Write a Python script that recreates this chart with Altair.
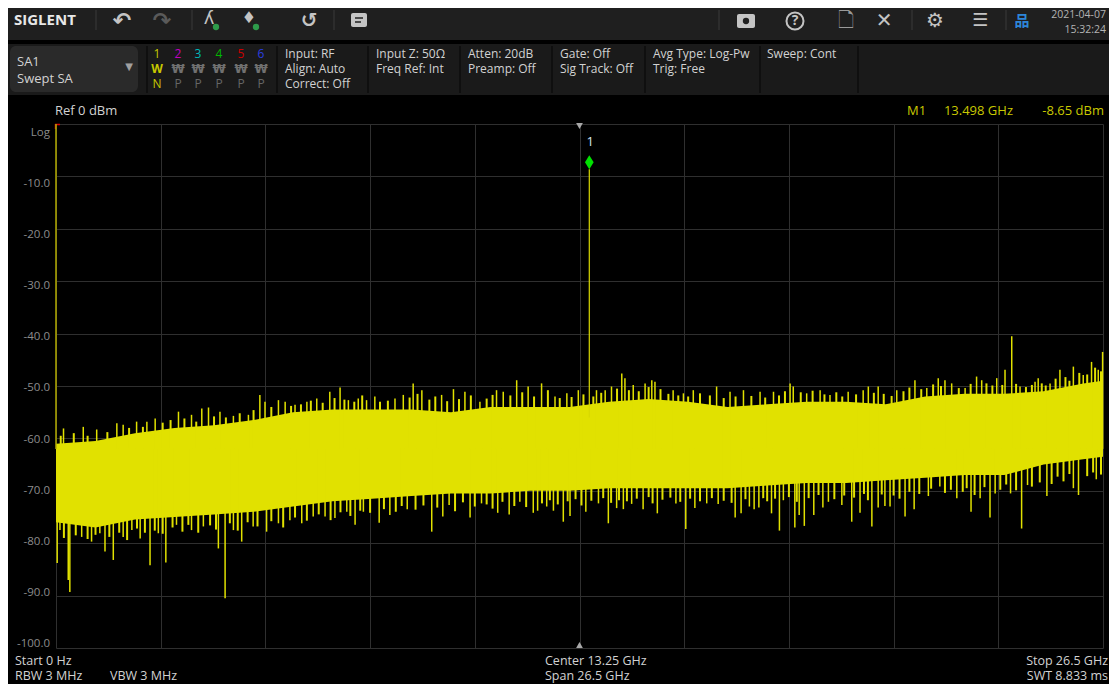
import pandas as pd
import altair as alt

# ---- trace values (GHz, dBm) ----
# dense part of the noise floor
env_f = [0, 1, 2, 3, 4, 5, 6, 7, 8, 9, 10, 11, 12, 13, 14, 15, 16, 17, 18, 19,
         20, 21, 22, 23, 24, 25, 26, 26.5]
env_top = [-61, -60.5, -59, -58, -57.5, -56.5, -55, -54.5, -54.5, -54.5, -55, -54,
           -54, -54, -53, -52.5, -53, -54, -53.5, -53, -53, -53.5, -52, -51.5,
           -51.5, -51, -49.5, -49]
env_bot = [-76, -77, -75.5, -75, -74.5, -74, -73, -72, -71.5, -71, -70.5, -70.5,
           -70, -70, -69.5, -69.5, -69.5, -69.5, -69, -68.5, -68.5, -68, -67.5, -67,
           -67, -65, -64, -63.5]

# tall peaks sticking out above the floor
up_f = [0.19, 0.69, 1.03, 1.54, 1.70, 2.04, 2.30, 2.51, 3.10, 3.43, 3.69, 3.86, 4.15,
        4.49, 4.87, 5.16, 5.29, 5.63, 5.80, 6.05, 6.35, 6.60, 6.93, 7.19, 7.40, 7.65,
        7.86, 8.07, 8.58, 8.79, 9.04, 9.26, 9.76, 10.06, 10.35, 10.73, 11.15, 11.32,
        11.66, 11.95, 12.29, 12.63, 12.93, 13.22, 13.68, 13.90, 14.06, 14.32, 14.40,
        14.61, 14.91, 15.08, 15.16, 15.62, 15.88, 16.13, 16.72, 17.06, 17.40, 17.82,
        18.16, 18.58, 18.66, 19.00, 19.34, 19.59, 20.05, 20.43, 20.56, 20.81, 21.28,
        21.74, 22.04, 22.33, 22.50, 22.67, 23.01, 23.30, 23.43, 23.81, 24.02, 24.19,
        24.40, 24.78, 24.86, 25.16, 25.41, 25.75, 26.00, 26.21, 26.38, 26.49]
up_db = [-58.1, -57.8, -58.3, -57.1, -57.4, -56.8, -56.8, -56.2, -54.9, -55.5, -54.3,
         -54.1, -54.9, -55.7, -55.5, -51.7, -53.0, -52.7, -53.0, -53.6, -53.0, -52.4,
         -51.1, -50.3, -52.7, -52.4, -52.7, -52.0, -52.4, -51.7, -49.5, -50.8, -51.7,
         -50.6, -51.1, -53.0, -50.8, -51.1, -48.9, -50.1, -49.5, -52.0, -51.4, -50.8,
         -50.8, -50.8, -50.1, -47.6, -48.5, -49.8, -49.5, -48.9, -49.2, -50.8, -51.4,
         -50.8, -50.1, -51.1, -50.8, -51.1, -51.1, -49.5, -50.1, -51.4, -50.8, -51.7,
         -51.1, -50.8, -50.1, -50.1, -50.8, -48.9, -50.4, -48.5, -48.9, -49.5, -50.4,
         -48.2, -48.9, -48.5, -46.9, -40.5, -50.1, -49.2, -48.5, -49.5, -46.9, -46.3,
         -47.9, -45.4, -46.9, -43.5]

# short fuzz along the top edge
up2_f = [0.12, 0.45, 0.8, 1.3, 1.85, 2.2, 2.7, 2.9, 3.25, 3.55, 4.0, 4.3, 4.65, 5.0,
         5.45, 5.95, 6.2, 6.45, 6.75, 7.05, 7.3, 7.55, 7.75, 8.2, 8.4, 8.95, 9.15, 9.45,
         9.6, 9.9, 10.2, 10.5, 10.9, 11.05, 11.5, 11.8, 12.1, 12.45, 12.75, 13.05,
         13.35, 13.6, 13.8, 14.2, 14.5, 14.75, 15.0, 15.3, 15.5, 15.75, 16.0, 16.3,
         16.55, 16.9, 17.2, 17.6, 17.95, 18.3, 18.45, 18.85, 19.15, 19.45, 19.75, 19.9,
         20.25, 20.7, 20.95, 21.15, 21.45, 21.6, 21.9, 22.2, 22.4, 22.85, 23.15, 23.55,
         23.7, 23.95, 24.3, 24.55, 24.7, 24.95, 25.05, 25.3, 25.55, 25.65, 25.9, 26.1,
         26.3, 26.45]
up2_db = [-59.5, -59, -59.5, -58.8, -58, -57.8, -57, -56.5, -56.2, -56.8, -55.8, -56,
          -55.2, -54.6, -54, -53.8, -53.5, -52.8, -53.2, -52.3, -52.6, -53, -51.8, -53,
          -52.8, -52.2, -51.5, -52.6, -52, -52.9, -52.5, -51.8, -52.4, -51.7, -51.8,
          -51.2, -52, -50.8, -52.3, -52.1, -51.6, -52, -51.3, -50.5, -50.8, -51, -50.2,
          -50.6, -51.5, -51.8, -52, -51.4, -51.8, -52.3, -52, -51.9, -52.2, -51.8, -51,
          -51.2, -50.9, -51.6, -51.2, -52, -51.6, -51.3, -51.5, -51.9, -51, -50.3,
          -50.6, -49.7, -50, -50.4, -49.6, -49.5, -49.9, -49.8, -49.6, -50.2, -49.8,
          -49.5, -49.9, -48.6, -48.3, -49, -47.5, -47.8, -46.5, -47.2]

# deep dips reaching below the floor
dn_f = [0.03, 0.10, 0.31, 0.35, 0.65, 0.90, 1.11, 1.24, 1.45, 1.70, 1.92, 2.13, 2.38,
        2.59, 2.78, 3.05, 3.43, 3.73, 4.11, 4.28, 4.49, 4.70, 4.99, 5.33, 5.63, 5.92,
        6.22, 6.51, 6.81, 7.06, 7.36, 7.57, 7.78, 8.18, 8.45, 8.89, 9.51, 9.79, 9.95,
        10.48, 10.77, 11.18, 11.47, 11.74, 12.08, 12.19, 12.42, 12.59, 12.84, 13.01,
        13.41, 13.73, 13.98, 14.19, 14.36, 14.57, 14.86, 15.22, 15.69, 15.94, 16.17,
        16.47, 16.76, 17.19, 17.34, 17.55, 17.67, 17.79, 18.11, 18.31, 18.41, 18.70,
        18.81, 18.94, 19.18, 19.41, 19.55, 19.89, 20.14, 20.35, 20.65, 20.81, 20.98,
        21.11, 21.49, 21.72, 22.08, 22.37, 22.80, 23.16, 23.39, 23.64, 23.77, 24.16,
        24.44, 24.59, 25.08, 25.75, 25.88, 26.33]
dn_db = [-83.8, -77.5, -87.0, -89.3, -78.8, -79.7, -78.1, -81.6, -83.2, -78.8, -77.5,
         -79.1, -84.2, -78.1, -83.7, -76.5, -77.5, -76.8, -81.0, -90.5, -77.5, -79.7,
         -76.8, -77.8, -76.2, -75.6, -76.2, -74.9, -74.9, -75.2, -74.0, -76.5, -74.0,
         -76.1, -74.6, -73.5, -77.8, -74.9, -72.7, -75.1, -72.4, -74.2, -74.5, -72.1,
         -74.2, -73.8, -73.0, -73.8, -75.9, -74.8, -74.0, -72.4, -76.2, -73.3, -73.5,
         -72.5, -73.5, -74.3, -72.4, -77.3, -73.3, -72.4, -72.5, -75.1, -74.3, -73.0,
         -73.5, -73.2, -74.3, -77.6, -71.8, -77.0, -74.6, -76.7, -74.6, -73.2, -72.1,
         -72.7, -75.9, -74.2, -76.8, -73.2, -72.9, -73.0, -74.9, -73.5, -71.0, -69.2,
         -71.4, -74.0, -71.4, -75.1, -70.5, -70.5, -77.2, -68.9, -71.0, -69.5, -70.8,
         -67.8]

# short fuzz along the bottom edge
dn2_f = [0.2, 0.5, 0.8, 1.0, 1.35, 1.6, 1.8, 2.05, 2.25, 2.5, 2.7, 2.95, 3.2, 3.35,
         3.6, 3.9, 4.05, 4.4, 4.6, 4.85, 5.1, 5.45, 5.75, 6.05, 6.35, 6.65, 6.95, 7.2,
         7.45, 7.7, 7.95, 8.3, 8.6, 8.75, 9.1, 9.3, 9.65, 10.1, 10.3, 10.6, 10.9, 11.05,
         11.3, 11.6, 11.9, 12.3, 12.5, 12.7, 12.95, 13.15, 13.3, 13.55, 13.85, 14.05,
         14.25, 14.45, 14.7, 15.0, 15.1, 15.35, 15.55, 15.8, 16.05, 16.3, 16.6, 16.9,
         17.1, 17.45, 17.9, 18.0, 18.2, 18.55, 18.75, 19.05, 19.3, 19.7, 19.95, 20.2,
         20.45, 20.55, 20.9, 21.2, 21.35, 21.6, 21.85, 22.15, 22.5, 22.65, 22.95, 23.05,
         23.25, 23.5, 23.9, 24.05, 24.3, 24.7, 24.9, 25.2, 25.35, 25.5, 25.65, 26.1,
         26.25, 26.45]
dn2_db = [-79, -78.5, -79.2, -78.4, -78.8, -78, -79.4, -77.2, -78, -77.6, -78.2, -77,
          -77.8, -76.5, -78, -76.6, -77.4, -76.2, -77.6, -76, -76.8, -75.8, -77, -75.1,
          -75.7, -74.5, -75.6, -74.1, -74.8, -73.8, -74.2, -73.5, -74, -72.9, -73.6,
          -72.8, -73.2, -73.9, -72.2, -73, -72.6, -73.4, -72.1, -72.9, -73.1, -72.4,
          -71.8, -72.6, -72, -71.6, -72.8, -71.9, -71.4, -72.3, -71.8, -72, -71.5,
          -71.2, -72.4, -71.7, -71.3, -72.1, -71.5, -72, -71.4, -71.9, -72.3, -71.6,
          -71.4, -72, -71.5, -71.2, -72.1, -71.4, -70.8, -71.6, -70.9, -71.3, -70.6,
          -71.8, -70.7, -70.9, -71.5, -70.2, -70.6, -69.6, -70.4, -69.8, -70.2, -69.5,
          -70.8, -69.3, -69.8, -68.8, -69.9, -69.2, -68.4, -68.7, -67.3, -68.2, -66.8,
          -67.2, -66.5, -66.9]

sig_f, sig_db = 13.498, -8.65      # marker 1
start_f, stop_f, center_f = 0, 26.5, 13.25
ref_db, bottom_db = 0, -100

grid_f = [0, 2.65, 5.3, 7.95, 10.6, 13.25, 15.9, 18.55, 21.2, 23.85, 26.5]
grid_db = [-100, -90, -80, -70, -60, -50, -40, -30, -20, -10, 0]
ylab_v = [0, -10, -20, -30, -40, -50, -60, -70, -80, -90, -100]
ylab_t = ["Log", "-10.0", "-20.0", "-30.0", "-40.0", "-50.0", "-60.0", "-70.0",
          "-80.0", "-90.0", "-100.0"]

# screen texts
status_cols = [
    ["Input: RF", "Align: Auto", "Correct: Off"],
    ["Input Z: 50Ω", "Freq Ref: Int"],
    ["Atten: 20dB", "Preamp: Off"],
    ["Gate: Off", "Sig Track: Off"],
    ["Avg Type: Log-Pw", "Trig: Free"],
    ["Sweep: Cont"],
]
trace_nums = ["1", "2", "3", "4", "5", "6"]
trace_cols = ["#c8c800", "#c000c0", "#00b8b8", "#00b800", "#cc0000", "#2a3fe0"]
trace_modes = ["W", "₩", "₩", "₩", "₩", "₩"]
trace_dets = ["N", "P", "P", "P", "P", "P"]
bottom_left = ["Start 0 Hz", "RBW 3 MHz"]
bottom_mid = ["Center 13.25 GHz", "Span 26.5 GHz"]
bottom_right = ["Stop 26.5 GHz", "SWT 8.833 ms"]

# ---- layout (page pixels) ----
OX, OY = 56, 124          # plot area origin on the page
W, H = 1047, 524
FONT = "Open Sans"
TRACE = "#e1e100"
GRID = "#2f2f2f"
TXT = "#d2d2d2"
BASE = -62                # spikes are drawn from inside the band

one = pd.DataFrame({"k": [0]})


def txt(s, x, y, color=TXT, size=12, align="left", weight="normal", font=FONT):
    return alt.Chart(one).mark_text(
        align=align, baseline="middle", font=font, fontSize=size,
        fontWeight=weight, color=color
    ).encode(x=alt.value(x - OX), y=alt.value(y - OY), text=alt.value(s))


def box(x1, y1, x2, y2, color, radius=0):
    return alt.Chart(one).mark_rect(color=color, cornerRadius=radius).encode(
        x=alt.value(x1 - OX), x2=alt.value(x2 - OX),
        y=alt.value(y1 - OY), y2=alt.value(y2 - OY))


def vline(x, y1, y2, color, w=1):
    return alt.Chart(one).mark_rule(color=color, strokeWidth=w).encode(
        x=alt.value(x - OX), y=alt.value(y1 - OY), y2=alt.value(y2 - OY))


def hline(x1, x2, y, color, w=1):
    return alt.Chart(one).mark_rule(color=color, strokeWidth=w).encode(
        x=alt.value(x1 - OX), x2=alt.value(x2 - OX), y=alt.value(y - OY))


def dot(x, y, color, size, shape="circle", filled=True, sw=1):
    return alt.Chart(one).mark_point(shape=shape, filled=filled, size=size,
                                     color=color, opacity=1, strokeWidth=sw).encode(
        x=alt.value(x - OX), y=alt.value(y - OY))


# ---- trace ----
X = alt.X("f:Q", scale=alt.Scale(domain=[start_f, stop_f], nice=False, zero=False),
          axis=alt.Axis(values=grid_f, grid=True, labels=False, ticks=False,
                        domain=False, title=None, gridColor=GRID, gridWidth=1))
Y = alt.Y("db:Q", scale=alt.Scale(domain=[bottom_db, ref_db], nice=False, zero=False),
          axis=alt.Axis(values=grid_db, grid=True, labels=False, ticks=False,
                        domain=False, title=None, gridColor=GRID, gridWidth=1))

env = pd.DataFrame({"f": env_f, "db": env_top, "bot": env_bot})
band = alt.Chart(env).mark_area(color=TRACE, interpolate="linear").encode(
    x=X, y=Y, y2="bot:Q")


def spikes(fs, dbs, w=1.5):
    return alt.Chart(pd.DataFrame({"f": fs, "db": dbs})).mark_rule(
        color=TRACE, strokeWidth=w).encode(x=X, y=Y, y2=alt.datum(BASE))


ups = spikes(up_f, up_db)
ups2 = spikes(up2_f, up2_db, 2.0)
downs = spikes(dn_f, dn_db)
downs2 = spikes(dn2_f, dn2_db, 2.0)

lo = alt.Chart(pd.DataFrame({"f": [start_f], "db": [ref_db]})).mark_rule(
    color="#b4ac00", strokeWidth=1.5).encode(x=X, y=Y, y2=alt.datum(BASE))
sig = alt.Chart(pd.DataFrame({"f": [sig_f], "db": [sig_db]})).mark_rule(
    color="#d8d800", strokeWidth=1.2).encode(x=X, y=Y, y2=alt.datum(-56))

mk = pd.DataFrame({"f": [sig_f], "db": [sig_db], "t": ["1"]})
diamond = alt.Chart(mk).mark_point(
    shape="M0,-1L0.62,0L0,1L-0.62,0Z", filled=True, size=196, color="#00e000",
    opacity=1, yOffset=-7).encode(x=X, y=Y)
mlabel = alt.Chart(mk).mark_text(
    font=FONT, fontSize=13, color="#d6e6f0", dy=-27, dx=1).encode(x=X, y=Y, text="t:N")

tri_top = alt.Chart(pd.DataFrame({"f": [center_f], "db": [ref_db]})).mark_point(
    shape="triangle-down", filled=True, size=45, color="#a8a8a8", opacity=1,
    yOffset=2).encode(x=X, y=Y)
tri_bot = alt.Chart(pd.DataFrame({"f": [center_f], "db": [bottom_db]})).mark_point(
    shape="triangle-up", filled=True, size=45, color="#a8a8a8", opacity=1,
    yOffset=-3).encode(x=X, y=Y)

trace = alt.layer(band, ups2, downs2, ups, downs, lo, sig, tri_top, tri_bot,
                  diamond, mlabel)

# y labels sit on their own, slightly tighter spacing than the grid
ylabels = alt.Chart(pd.DataFrame({"v": ylab_v, "t": ylab_t})).mark_text(
    align="right", baseline="middle", font=FONT, fontSize=11.5, color="#8c8c8c"
).encode(
    x=alt.value(-6),
    y=alt.Y("v:Q", scale=alt.Scale(domain=[-100.78, 1.74], nice=False, zero=False),
            axis=None),
    text="t:N")

# ---- instrument chrome ----
chrome = [
    box(0, 0, 1117, 40, "#1f1f1f"),
    box(0, 44, 1117, 95, "#1a1a1a"),
    box(10, 46, 138, 92, "#2a2a2a", radius=6),
    txt("SIGLENT", 14, 20, "#e8e8e8", 15, weight="bold"),
    vline(96, 10, 30, "#3a3a3a"),
    txt("↶", 122, 21, "#c4c4c4", 22, "center", "bold", "DejaVu Sans"),
    txt("↷", 162, 21, "#5a5a5a", 22, "center", "bold", "DejaVu Sans"),
    vline(192, 10, 30, "#3a3a3a"),
    txt("ʎ", 209, 19, "#c4c4c4", 18, "center", font="DejaVu Sans"),
    dot(216, 27, "#2e9a4a", 40),
    txt("♦", 249, 18, "#c4c4c4", 16, "center", font="DejaVu Sans"),
    dot(256, 27, "#2e9a4a", 40),
    txt("↺", 309, 21, "#c4c4c4", 20, "center", "bold", "DejaVu Sans"),
    vline(334, 10, 30, "#3a3a3a"),
    box(351, 13, 367, 27, "#c4c4c4", radius=2),
    hline(355, 363, 18, "#1f1f1f", 1.5),
    hline(355, 361, 22, "#1f1f1f", 1.5),
    vline(719, 10, 30, "#3a3a3a"),
    box(737, 14, 755, 28, "#c4c4c4", radius=2),
    dot(746, 21, "#1f1f1f", 40),
    txt("?", 795, 21, "#c4c4c4", 14, "center", "bold"),
    dot(795, 21, "#c4c4c4", 290, filled=False, sw=2),
    txt("🗋", 846, 21, "#9a9a9a", 20, "center", font="DejaVu Sans"),
    txt("✕", 884, 21, "#c4c4c4", 20, "center", "bold", "DejaVu Sans"),
    vline(912, 10, 30, "#3a3a3a"),
    txt("⚙", 935, 21, "#c4c4c4", 20, "center", font="DejaVu Sans"),
    txt("☰", 980, 21, "#c4c4c4", 18, "center", font="DejaVu Sans"),
    vline(1006, 10, 30, "#3a3a3a"),
    txt("品", 1022, 21, "#2d86d8", 15, "center", "bold", "Noto Sans CJK SC"),
    txt("2021-04-07", 1106, 15, "#b4b4b4", 10.5, "right"),
    txt("15:32:24", 1106, 30, "#b4b4b4", 10.5, "right"),
    txt("SA1", 17, 62, TXT, 13),
    txt("Swept SA", 17, 79, TXT, 13),
    txt("▼", 129, 67, "#a0a0a0", 10, "center", font="DejaVu Sans"),
    txt("Ref  0 dBm", 55, 111, TXT, 13),
    txt("M1", 907, 111, "#c9c900", 13),
    txt("13.498 GHz", 1013, 111, "#c9c900", 13, "right"),
    txt("-8.65 dBm", 1104, 111, "#c9c900", 13, "right"),
    hline(55, 60, 124.5, "#dd0000", 1.5),
    vline(55.5, 124, 129, "#dd0000", 1.5),
]
for sx in [147, 277, 368, 460, 552, 645, 760, 858]:
    chrome.append(vline(sx, 46, 93, "#0f0f0f", 2))

trace_x = [157, 178, 198, 219, 241, 261]
for i in range(6):
    grey = i > 0
    chrome.append(txt(trace_nums[i], trace_x[i], 54, trace_cols[i], 12, "center"))
    chrome.append(txt(trace_modes[i], trace_x[i], 69,
                      "#707070" if grey else "#c8c800", 12, "center",
                      "bold", "DejaVu Sans" if grey else FONT))
    chrome.append(txt(trace_dets[i], trace_x[i], 84,
                      "#666666" if grey else "#c8c800", 12, "center"))

status_x = [285, 376, 468, 560, 653, 767]
for cx, col in zip(status_x, status_cols):
    for r, s in enumerate(col):
        chrome.append(txt(s, cx, 54 + 15 * r, TXT, 12))

for r, s in enumerate(bottom_left):
    chrome.append(txt(s, 15, 661 + 15 * r, TXT, 12.5))
chrome.append(txt("VBW 3 MHz", 110, 676, TXT, 12.5))
for r, s in enumerate(bottom_mid):
    chrome.append(txt(s, 545, 661 + 15 * r, TXT, 12.5))
for r, s in enumerate(bottom_right):
    chrome.append(txt(s, 1108, 661 + 15 * r, TXT, 12.5, "right"))

chart = alt.layer(*chrome, trace, ylabels).resolve_scale(
    y="independent"
).properties(
    width=W, height=H,
    padding={"left": OX - 8, "top": OY - 8, "right": 6, "bottom": 36},
    autosize=alt.AutoSizeParams(type="none"),
    background="#000000",
).configure_view(stroke=None)

chart.save("out.html", embed_options={"renderer": "svg", "actions": False})
